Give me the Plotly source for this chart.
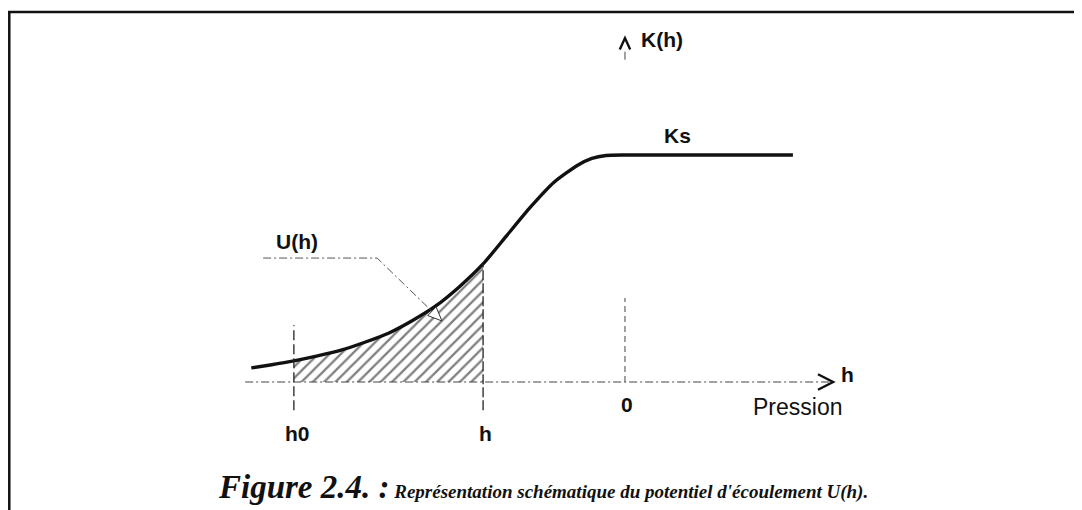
import plotly.graph_objects as go

# ---- data (schematic units: pressure h, conductivity K normalised by Ks) ----
h_vals = [-7.9, -7.5, -7.0, -6.5, -6.0, -5.5, -5.0, -4.5, -4.0, -3.5, -3.0,
          -2.5, -2.0, -1.5, -1.0, -0.7, -0.4, 0.0, 1.0, 2.0, 3.0, 3.55]
k_vals = [0.062, 0.075, 0.093, 0.115, 0.14, 0.175, 0.215, 0.27, 0.335, 0.42, 0.52,
          0.645, 0.77, 0.88, 0.955, 0.985, 0.998, 1.0, 1.0, 1.0, 1.0, 1.0]
h0_pos = -7.0        # lower integration bound
h_pos = -3.0         # current pressure
zero_pos = 0.0
tick_labels = ["h0", "h", "0"]
tick_positions = [h0_pos, h_pos, zero_pos]

# axis ranges (whole figure is the plotting area)
x_range = [-13.044, 9.662]
y_range = [-0.5639, 1.6476]

fig = go.Figure()

# hatched area U(h)
fill_h = [x for x in h_vals if h0_pos <= x <= h_pos]
fill_k = [k for x, k in zip(h_vals, k_vals) if h0_pos <= x <= h_pos]
fig.add_trace(go.Scatter(
    x=fill_h, y=fill_k, mode="lines", fill="tozeroy",
    line=dict(width=0, shape="spline", smoothing=0.6),
    fillcolor="rgba(0,0,0,0)",
    fillpattern=dict(shape="/", size=8, solidity=0.28, fgcolor="#000", bgcolor="white"),
    hoverinfo="skip", showlegend=False))

# K(h) curve
fig.add_trace(go.Scatter(
    x=h_vals, y=k_vals, mode="lines",
    line=dict(color="#111", width=3.4, shape="spline", smoothing=0.6),
    hoverinfo="skip", showlegend=False))

dash_style = "8px,3px,2px,3px"
line_col = "#444"

shapes = []
# horizontal axis
shapes.append(dict(type="line", xref="x", yref="y", x0=-8.03, x1=4.40, y0=0, y1=0,
                   line=dict(color=line_col, width=1.2, dash=dash_style)))
# arrow head of horizontal axis
shapes.append(dict(type="path", xref="x", yref="y",
                   path="M 4.08,0.034 L 4.40,0 L 4.08,-0.034",
                   line=dict(color="#111", width=2.4)))
# vertical axis (visible parts)
shapes.append(dict(type="line", xref="x", yref="y", x0=zero_pos, x1=zero_pos, y0=0, y1=0.37,
                   line=dict(color=line_col, width=1, dash="6px,4px")))
shapes.append(dict(type="line", xref="x", yref="y", x0=zero_pos, x1=zero_pos, y0=1.42, y1=1.455,
                   line=dict(color=line_col, width=1)))
# arrow head of vertical axis
shapes.append(dict(type="path", xref="x", yref="y",
                   path="M -0.11,1.465 L 0,1.515 L 0.11,1.465",
                   line=dict(color="#111", width=2.4)))
# h0 marker
shapes.append(dict(type="line", xref="x", yref="y", x0=h0_pos, x1=h0_pos, y0=-0.125, y1=0.25,
                   line=dict(color="#222", width=1.3, dash="10px,4px")))
# h marker
shapes.append(dict(type="line", xref="x", yref="y", x0=h_pos, x1=h_pos, y0=-0.125, y1=0.52,
                   line=dict(color="#222", width=1.3, dash="10px,3px")))
# U(h) leader line
shapes.append(dict(type="path", xref="x", yref="y",
                   path="M -7.65,0.546 L -5.24,0.546 L -4.081,0.3116",
                   line=dict(color="#555", width=1, dash=dash_style)))
# hollow arrow head of leader
shapes.append(dict(type="path", xref="x", yref="y",
                   path="M -3.869,0.2687 L -4.170,0.2926 L -3.993,0.3306 Z",
                   fillcolor="white", line=dict(color="#333", width=1)))
# frame (left and top borders)
shapes.append(dict(type="line", xref="paper", yref="paper", x0=0.0012, x1=0.0012, y0=0, y1=0.992,
                   line=dict(color="#111", width=2.5)))
shapes.append(dict(type="line", xref="paper", yref="paper", x0=0.0, x1=1, y0=0.992, y1=0.992,
                   line=dict(color="#111", width=2.5)))

sans_b = dict(family="Liberation Sans, Arial", size=21, color="#111")
annotations = []
# tick labels
for lab, pos in zip(tick_labels, tick_positions):
    annotations.append(dict(x=pos + (0.07 if lab == "h0" else 0.05), y=-0.225 if lab != "0" else -0.101,
                            xref="x", yref="y", text="<b>%s</b>" % lab, showarrow=False,
                            font=sans_b, xanchor="center", yanchor="middle"))
annotations += [
    dict(x=0.30, y=1.507, xref="x", yref="y", text="<b>K(h)</b>", showarrow=False,
         font=sans_b, xanchor="left", yanchor="middle"),
    dict(x=1.12, y=1.088, xref="x", yref="y", text="<b>Ks</b>", showarrow=False,
         font=sans_b, xanchor="center", yanchor="middle"),
    dict(x=-6.93, y=0.617, xref="x", yref="y", text="<b>U(h)</b>", showarrow=False,
         font=sans_b, xanchor="center", yanchor="middle"),
    dict(x=4.52, y=0.031, xref="x", yref="y", text="<b>h</b>", showarrow=False,
         font=sans_b, xanchor="left", yanchor="middle"),
    dict(x=3.64, y=-0.11, xref="x", yref="y", text="Pression", showarrow=False,
         font=dict(family="Liberation Sans, Arial", size=23, color="#111"),
         xanchor="center", yanchor="middle"),
    dict(x=0.4977, y=0.0458, xref="paper", yref="paper",
         text="<b><i><span style='font-size:33px'>Figure 2.4. :</span> "
              "Représentation schématique du potentiel d'écoulement U(h).</i></b>",
         showarrow=False, font=dict(family="Liberation Serif, Times New Roman", size=19, color="#111"),
         xanchor="center", yanchor="middle"),
]

fig.update_layout(
    width=1074, height=502,
    margin=dict(l=0, r=0, t=0, b=0),
    paper_bgcolor="white", plot_bgcolor="white",
    xaxis=dict(range=x_range, visible=False, fixedrange=True),
    yaxis=dict(range=y_range, visible=False, fixedrange=True),
    shapes=shapes, annotations=annotations,
)

fig.write_html("out.html")
